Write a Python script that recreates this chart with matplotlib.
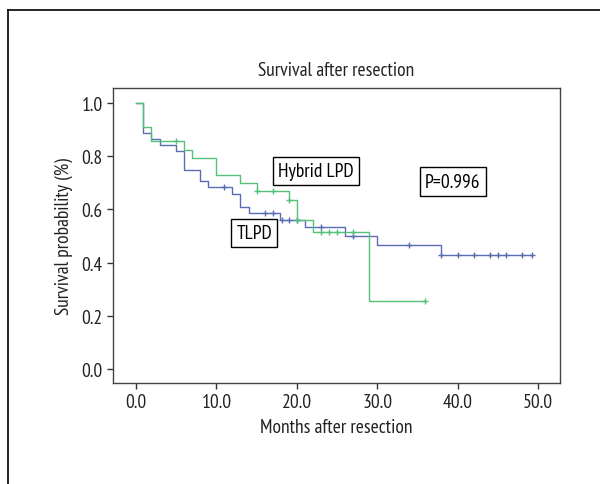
import numpy as np
import matplotlib
matplotlib.use("Agg")
import matplotlib.pyplot as plt
from matplotlib.lines import Line2D


plt.rcParams["font.family"] = ["PT Sans Narrow", "Roboto Condensed", "DejaVu Sans"]

# TLPD (blue) Kaplan-Meier steps
TLPD_TIMES = [0.0, 0.9, 1.9, 3.0, 5.0, 6.0, 8.0, 9.0, 12.0, 13.0, 14.0, 17.9, 21.0, 26.0, 30.0, 38.0]
TLPD_SURV = [1.0, 0.887, 0.863, 0.842, 0.818, 0.749, 0.705, 0.683, 0.658, 0.61, 0.586, 0.561, 0.532, 0.501, 0.467, 0.43]
TLPD_END = 49.2
TLPD_CENSOR = [11.0, 16.0, 17.0, 18.2, 19.0, 20.0, 23.0, 27.0, 34.0, 38.0, 40.0, 42.0, 44.0, 45.0, 46.0, 48.0, 49.2]

# Hybrid LPD (green) Kaplan-Meier steps
HYBRID_TIMES = [0.0, 0.9, 1.9, 6.0, 7.0, 10.0, 13.0, 15.0, 19.0, 20.0, 22.0, 29.0]
HYBRID_SURV = [1.0, 0.911, 0.856, 0.823, 0.792, 0.73, 0.699, 0.669, 0.635, 0.561, 0.516, 0.257]
HYBRID_END = 36.0
HYBRID_CENSOR = [5.0, 15.0, 17.0, 19.0, 20.0, 23.0, 24.0, 25.0, 27.0, 36.0]

X_TICKS = [0, 10, 20, 30, 40, 50]
Y_TICKS = [0.0, 0.2, 0.4, 0.6, 0.8, 1.0]

BLUE = "#5a6db3"
GREEN = "#55c07a"
FONT_SIZE = 14


def step_value(times, surv, t):
    """Survival value of a step curve at time t (right-continuous)."""
    idx = np.searchsorted(times, t, side="right") - 1
    return surv[max(idx, 0)]


def draw_curve(ax, times, surv, end, censor, color):
    xs = list(times) + [end]
    ys = list(surv) + [surv[-1]]
    ax.step(xs, ys, where="post", color=color, linewidth=1.0)
    cy = [step_value(times, surv, t) for t in censor]
    ax.plot(censor, cy, linestyle="none", marker="+", color=color,
            markersize=5, markeredgewidth=1.0)


def main() -> None:
    fig = plt.figure(figsize=(6.0, 4.85), dpi=100)
    ax = fig.add_axes([0.1883, 0.2082, 0.745, 0.6083])

    draw_curve(ax, TLPD_TIMES, TLPD_SURV, TLPD_END, TLPD_CENSOR, BLUE)
    draw_curve(ax, HYBRID_TIMES, HYBRID_SURV, HYBRID_END, HYBRID_CENSOR, GREEN)

    ax.set_xlim(-2.86, 52.74)
    ax.set_ylim(-0.053, 1.056)
    ax.set_xticks(X_TICKS)
    ax.set_xticklabels([f"{v:.1f}" for v in X_TICKS])
    ax.set_yticks(Y_TICKS)
    ax.set_yticklabels([f"{v:.1f}" for v in Y_TICKS])
    ax.tick_params(direction="out", length=4, width=1, colors="#333333",
                   labelsize=FONT_SIZE, labelcolor="#222222")
    for spine in ax.spines.values():
        spine.set_color("#444444")
        spine.set_linewidth(1.0)

    ax.set_title("Survival after resection", fontsize=FONT_SIZE, color="#222222", pad=9)
    ax.set_xlabel("Months after resection", fontsize=FONT_SIZE, color="#222222", labelpad=5)
    ax.set_ylabel("Survival probability (%)", fontsize=FONT_SIZE, color="#222222", labelpad=6)

    box = dict(boxstyle="square,pad=0.28", facecolor="white", edgecolor="black", linewidth=1.0)
    ax.text(22.4, 0.744, "Hybrid LPD", fontsize=FONT_SIZE, ha="center", va="center", bbox=box)
    ax.text(14.7, 0.511, "TLPD", fontsize=FONT_SIZE, ha="center", va="center", bbox=box)
    ax.text(39.4, 0.703, "P=0.996", fontsize=FONT_SIZE, ha="center", va="center", bbox=box)

    # outer frame of the figure panel
    top = 1 - 11 / 485
    left = 8 / 600
    fig.add_artist(Line2D([left, left], [0, top], transform=fig.transFigure, color="black", linewidth=1.2))
    fig.add_artist(Line2D([left, 1], [top, top], transform=fig.transFigure, color="black", linewidth=1.2))

    fig.savefig("out.png", dpi=100)


if __name__ == "__main__":
    main()
